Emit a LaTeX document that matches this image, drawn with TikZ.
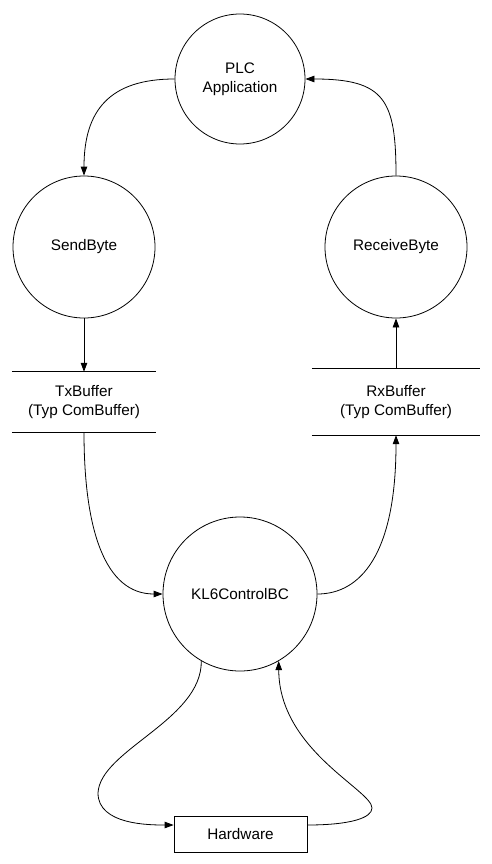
\documentclass[tikz,border=0pt]{standalone}
\usepackage{fontspec}
\setmainfont{Liberation Sans}
\usetikzlibrary{arrows.meta}
\begin{document}
\begin{tikzpicture}[x=1pt,y=-1pt,
  every node/.style={font=\fontsize{15.3}{18.5}\selectfont, align=center, inner sep=0pt},
  proc/.style={draw, circle, line width=0.8pt},
  store/.style={minimum height=#1},
  hwbox/.style={draw, rectangle, line width=0.8pt, minimum width=133pt, minimum height=36pt},
  flow/.style={line width=0.8pt, -{Triangle[length=9pt,width=6.5pt]}},
  rule/.style={line width=0.8pt}]
\useasboundingbox (0,0) rectangle (492,864);
\node[proc, minimum size=130pt] (plc) at (240,79) {PLC\\Application};
\node[proc, minimum size=142pt] (send) at (84,247) {SendByte};
\node[proc, minimum size=142pt] (recv) at (396,247) {ReceiveByte};
\node[minimum width=144pt, minimum height=60pt] (tx) at (84,402) {TxBuffer\\(Typ ComBuffer)};
\node[minimum width=168pt, minimum height=66pt] (rx) at (396,402) {RxBuffer\\(Typ ComBuffer)};
\node[proc, minimum size=154pt] (kl) at (240,594) {KL6ControlBC};
\node[hwbox] (hw) at (240.5,834) {Hardware};
\draw[rule] (tx.north west) -- (tx.north east);
\draw[rule] (tx.south west) -- (tx.south east);
\draw[rule] (rx.north west) -- (rx.north east);
\draw[rule] (rx.south west) -- (rx.south east);
\draw[flow] (plc.west) .. controls (110,79) and (84,110) .. (send.north);
\draw[flow] (recv.north) .. controls (396,100) and (385,79) .. (plc.east);
\draw[flow] (send.south) -- (tx.north);
\draw[flow] (rx.north) -- (recv.south);
\draw[flow] (tx.south) .. controls (84,530) and (105,594) .. (kl.west);
\draw[flow] (kl.east) .. controls (360,594) and (396,555) .. (rx.south);
\coordinate (hwin) at ([yshift=9pt]hw.west);
\coordinate (hwout) at ([yshift=9pt]hw.east);
\draw[flow] (kl.240) .. controls (202,720) and (100,750) .. (98,793)
  .. controls (98,825) and (150,825) .. (hwin);
\draw[flow] (hwout) .. controls (350,825) and (372,818) .. (372,808)
  .. controls (372,790) and (279,750) .. (kl.300);
\end{tikzpicture}
\end{document}
